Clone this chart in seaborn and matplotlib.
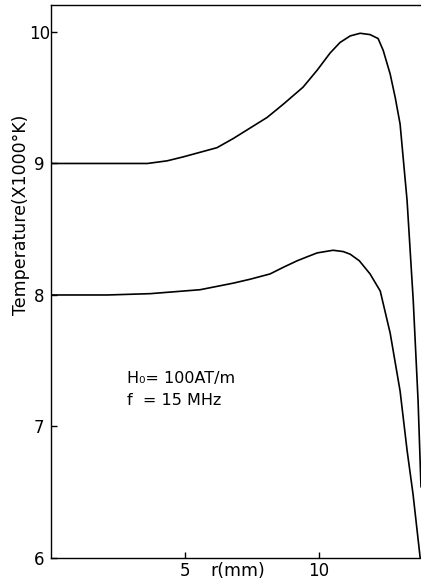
import matplotlib
matplotlib.use("Agg")
import matplotlib.pyplot as plt
import seaborn as sns
import pandas as pd

# Data
upper_r = [0, 1, 2, 3, 3.6, 4.33, 4.93, 6.19, 6.8, 7.43, 8.06, 8.66, 9.4, 9.93, 10.41,
           10.78, 11.16, 11.53, 11.9, 12.2, 12.39, 12.65, 12.84, 13.02, 13.28, 13.51,
           13.69, 13.8]
upper_T = [9.0, 9.0, 9.0, 9.0, 9.0, 9.02, 9.05, 9.12, 9.19, 9.27, 9.35, 9.45, 9.58, 9.71,
           9.84, 9.92, 9.97, 9.99, 9.98, 9.95, 9.86, 9.68, 9.50, 9.30, 8.72, 7.96,
           7.2, 6.54]
lower_r = [0, 2.1, 3.7, 5.56, 6.8, 7.43, 8.17, 8.66, 9.18, 9.55, 9.93, 10.52, 10.9, 11.16,
           11.5, 11.9, 12.28, 12.65, 13.02, 13.28, 13.5, 13.77]
lower_T = [8.0, 8.0, 8.01, 8.04, 8.09, 8.12, 8.16, 8.21, 8.26, 8.29, 8.32, 8.34, 8.33, 8.31,
           8.26, 8.16, 8.03, 7.71, 7.27, 6.82, 6.49, 6.0]
x_ticks = [5, 10]
y_ticks = [6, 7, 8, 9, 10]

sns.set_theme(style="white")
plt.rcParams['font.family'] = ['DejaVu Sans']

fig = plt.figure(figsize=(4.21, 5.84), dpi=100)
ax = fig.add_axes([51/421, 1 - 558/584, 370/421, 553/584])

df_u = pd.DataFrame({"r": upper_r, "T": upper_T})
df_l = pd.DataFrame({"r": lower_r, "T": lower_T})
sns.lineplot(data=df_u, x="r", y="T", ax=ax, color="black", lw=1.2, sort=False)
sns.lineplot(data=df_l, x="r", y="T", ax=ax, color="black", lw=1.2, sort=False)

ax.set_xlim(0, 13.8)
ax.set_ylim(6, 10.205)
ax.set_xticks(x_ticks)
ax.set_yticks(y_ticks)
ax.set_xticklabels([str(v) for v in x_ticks])
ax.set_yticklabels([str(v) for v in y_ticks])
ax.tick_params(axis="both", direction="in", length=4, width=1, color="black",
               labelsize=12, labelcolor="black")
ax.tick_params(axis="x", bottom=True, top=False, pad=3)
ax.tick_params(axis="y", left=True, right=False, pad=8.5)
for lab in ax.get_yticklabels():
    lab.set_horizontalalignment("center")

for s in ["left", "bottom", "top"]:
    ax.spines[s].set_visible(True)
    ax.spines[s].set_color("black")
    ax.spines[s].set_linewidth(1.0)
ax.spines["right"].set_visible(False)

ax.set_xlabel("r(mm)", fontsize=12.5, color="black")
ax.xaxis.set_label_coords(0.505, -0.008)
ax.set_ylabel("Temperature(X1000°K)", fontsize=12.5, color="black")
ax.yaxis.set_label_coords(-0.058, 0.62)

ax.text(0.206, 0.325, "H\u2080= 100AT/m", transform=ax.transAxes, fontsize=11.5,
        color="black", va="center", ha="left")
ax.text(0.206, 0.284, "f  = 15 MHz", transform=ax.transAxes, fontsize=11.5,
        color="black", va="center", ha="left")

fig.savefig("out.png", dpi=100)
